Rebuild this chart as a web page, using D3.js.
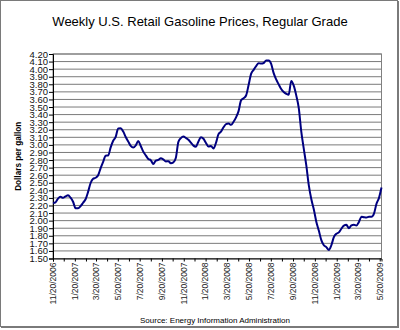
<!DOCTYPE html>
<html>
<head>
<meta charset="utf-8">
<script src="https://cdn.jsdelivr.net/npm/d3@7/dist/d3.min.js"></script>
<style>
  html, body { margin: 0; padding: 0; background: #fff; }
  svg { display: block; font-family: "Liberation Sans", Arial, sans-serif; }
</style>
</head>
<body>
<svg id="chart" width="400" height="330"></svg>
<script>
// ---- data (weekly, starting Monday 11/20/2006) ----
const startDate = "2006-11-20";
const prices = [
  2.233, 2.242, 2.291, 2.315, 2.301, 2.321, 2.334, 2.303, 2.249, 2.165,
  2.164, 2.191, 2.236, 2.282, 2.380, 2.497, 2.552, 2.566, 2.600, 2.694,
  2.777, 2.857, 2.860, 2.967, 3.054, 3.107, 3.218, 3.221, 3.176, 3.105,
  3.045, 2.986, 2.964, 2.993, 3.050, 2.985, 2.911, 2.862, 2.814, 2.798,
  2.749, 2.792, 2.802, 2.822, 2.808, 2.782, 2.784, 2.758, 2.768, 2.830,
  3.040, 3.090, 3.110, 3.092, 3.068, 3.030, 2.990, 2.977, 3.045, 3.101,
  3.081, 3.025, 2.978, 2.986, 2.951, 3.028, 3.142, 3.175, 3.232, 3.275,
  3.282, 3.265, 3.305, 3.363, 3.446, 3.588, 3.615, 3.652, 3.790, 3.937,
  3.990, 4.039, 4.079, 4.073, 4.081, 4.114, 4.113, 4.070, 3.947, 3.864,
  3.799, 3.737, 3.697, 3.675, 3.663, 3.845, 3.782, 3.654, 3.489, 3.180,
  2.950, 2.732, 2.469, 2.285, 2.150, 1.986, 1.869, 1.742, 1.675, 1.650,
  1.613, 1.675, 1.782, 1.826, 1.845, 1.893, 1.934, 1.944, 1.901, 1.937,
  1.945, 1.937, 1.983, 2.051, 2.045, 2.041, 2.051, 2.050, 2.092, 2.222,
  2.301, 2.437
];
const xTickLabels = [
  "11/20/2006", "1/20/2007", "3/20/2007", "5/20/2007", "7/20/2007", "9/20/2007",
  "11/20/2007", "1/20/2008", "3/20/2008", "5/20/2008", "7/20/2008", "9/20/2008",
  "11/20/2008", "1/20/2009", "3/20/2009", "5/20/2009"
];
const yTicks = [1.50, 1.60, 1.70, 1.80, 1.90, 2.00, 2.10, 2.20, 2.30, 2.40, 2.50,
  2.60, 2.70, 2.80, 2.90, 3.00, 3.10, 3.20, 3.30, 3.40, 3.50, 3.60, 3.70, 3.80,
  3.90, 4.00, 4.10, 4.20];
const titleText = "Weekly U.S. Retail Gasoline Prices, Regular Grade";
const yTitle = "Dollars per gallon";
const sourceText = "Source:  Energy Information Administration";

// ---- build ----
const parse = d3.timeParse("%Y-%m-%d");
const parseLbl = d3.timeParse("%m/%d/%Y");
const t0 = parse(startDate);
const series = prices.map((v, i) => ({ date: d3.timeDay.offset(t0, i * 7), value: v }));

const svg = d3.select("#chart");
const L = 53, R = 381.5, T = 54, B = 258.5;

const x = d3.scaleTime()
  .domain([series[0].date, series[series.length - 1].date])
  .range([L, R]);
const y = d3.scaleLinear().domain([1.5, 4.2]).range([B, T]);

svg.append("rect").attr("width", 400).attr("height", 330).attr("fill", "#fff");

// outer border
svg.append("rect").attr("x", 0.5).attr("y", 0.5).attr("width", 397).attr("height", 326)
  .attr("fill", "none").attr("stroke", "#7a7a7a").attr("stroke-width", 1);
svg.append("line").attr("x1", 1).attr("x2", 399).attr("y1", 327.5).attr("y2", 327.5)
  .attr("stroke", "#7a7a7a");
svg.append("line").attr("x1", 398.5).attr("x2", 398.5).attr("y1", 1).attr("y2", 328)
  .attr("stroke", "#7a7a7a");

// title
svg.append("text").attr("x", 200).attr("y", 26).attr("text-anchor", "middle")
  .attr("font-size", 13).attr("fill", "#000").text(titleText);

// gridlines
svg.append("g").selectAll("line").data(yTicks).join("line")
  .attr("x1", L).attr("x2", R)
  .attr("y1", d => y(d)).attr("y2", d => y(d))
  .attr("stroke", "#7a7a7a").attr("stroke-width", 1);

// plot border (top/right)
svg.append("rect").attr("x", L).attr("y", T).attr("width", R - L).attr("height", B - T)
  .attr("fill", "none").attr("stroke", "#808080").attr("stroke-width", 1);

// y axis
const yAxis = d3.axisLeft(y).tickValues(yTicks).tickFormat(d3.format(".2f"))
  .tickSize(4).tickPadding(1);
const gy = svg.append("g").attr("transform", `translate(${L},0)`).call(yAxis);
gy.select(".domain").attr("stroke", "#000");
gy.selectAll(".tick line").attr("stroke", "#000");
gy.selectAll(".tick text").attr("font-size", 9.5).attr("fill", "#111")
  .attr("font-family", "'Liberation Sans', Arial, sans-serif");

// x axis: monthly ticks, labels every second month
const monthTicks = d3.timeMonth.range(d3.timeMonth.floor(x.domain()[0]), x.domain()[1])
  .map(d => d3.timeDay.offset(d, 19))
  .filter(d => d >= x.domain()[0] && d <= d3.timeDay.offset(x.domain()[1], 0));
const xAxis = d3.axisBottom(x).tickValues(monthTicks).tickSize(3).tickFormat("");
const gx = svg.append("g").attr("transform", `translate(0,${B})`).call(xAxis);
gx.select(".domain").attr("stroke", "#000");
gx.selectAll(".tick line").attr("stroke", "#000");

svg.append("g").selectAll("text").data(xTickLabels).join("text")
  .attr("transform", d => `translate(${x(parseLbl(d))},${B + 4}) rotate(-90)`)
  .attr("text-anchor", "end").attr("dy", "0.33em")
  .attr("font-size", 8.5).attr("fill", "#222").text(d => d);

// y title
svg.append("text")
  .attr("transform", `translate(21,${(T + B) / 2}) rotate(-90)`)
  .attr("text-anchor", "middle").attr("font-size", 8.2).attr("font-weight", "bold")
  .attr("fill", "#000").text(yTitle);

// line
const line = d3.line().x(d => x(d.date)).y(d => y(d.value)).curve(d3.curveMonotoneX);
svg.append("path").datum(series).attr("d", line)
  .attr("fill", "none").attr("stroke", "#000080").attr("stroke-width", 2)
  .attr("stroke-linejoin", "round");

// source
svg.append("text").attr("x", 140).attr("y", 323).attr("font-size", 8)
  .attr("fill", "#000").text(sourceText);
</script>
</body>
</html>
